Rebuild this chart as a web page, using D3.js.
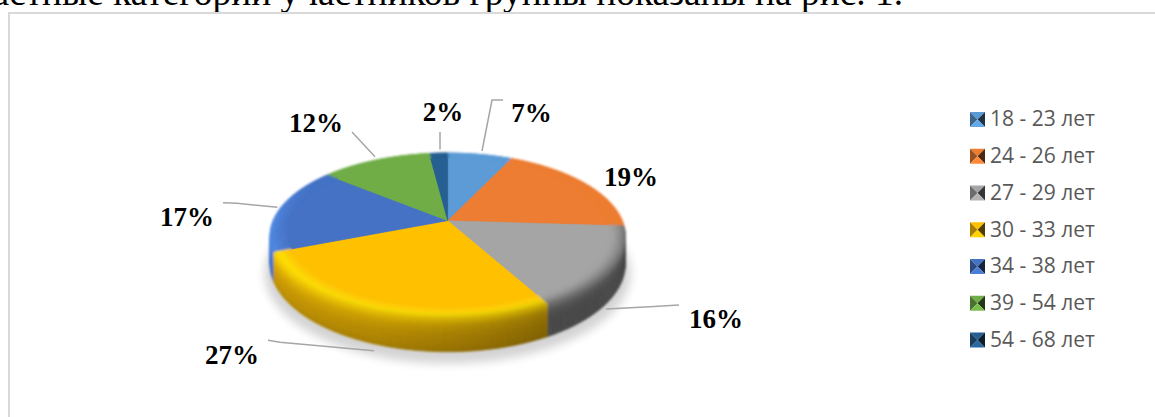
<!DOCTYPE html>
<html lang="ru"><head><meta charset="utf-8">
<script src="https://cdn.jsdelivr.net/npm/d3@7/dist/d3.min.js"></script>
<style>html,body{margin:0;padding:0;background:#fff;overflow:hidden}svg{display:block}</style>
</head><body><svg id="c" width="1155" height="417"></svg>
<script>
// ---- data ----
const categories = ["18 - 23 лет","24 - 26 лет","27 - 29 лет","30 - 33 лет","34 - 38 лет","39 - 54 лет","54 - 68 лет"];
const shares = [7,19,16,27,17,12,2];
const captionText = "возрастные категории участников группы показаны на рис. 1.";

// ---- style ----
const colors = ["#5b9bd5","#ed7d31","#a5a5a5","#ffc000","#4472c4","#70ad47","#255e91"];
// rim profile: colours from the inner bevel (t=0) to the wall foot (t=1)
const rimProfiles = [
  ["#5b9bd5","#5b9bd5","#3f7ab5","#2f6095"],
  ["#ed7d31","#ed7d31","#ed7d31","#c4652a","#8a4716","#6a340f"],
  ["#a5a5a5","#a0a0a0","#8c8c8c","#6c6c6c","#525252","#484848","#474747","#474747","#474747"],
  ["#ffc000","#ffcc00","#ffe000","#f6cc00","#e6b400","#d6a400","#cc9a00","#c59500","#b88a00"],
  ["#4472c4","#4a7ad0","#5088e0","#4c84dc","#4478cc","#3f70c4","#3a68b8"],
  ["#70ad47","#70ad47","#5a9038","#4a7a2e"],
  ["#255e91","#255e91","#1c4a75","#153a5e"]
];
const wallLit = [0,0,0,1,0,0,0];
const W = 1155, H = 417;
// perspective parameters of the disc
const apex = {x:447.7, y:220.7}, radX = 174.8, radY = 80, persp = 0.176, depth = 28, flatR = 0.9, bevelShare = 0.36;
// label and leader layout (pixels)
const labelPos = [[531.5,122],[631,186],[716,328],[232,364],[187,226],[316,132],[443,121]];
const leaderPts = [
  [[482,151],[492,100],[503,100]],
  [],
  [[606,309],[650,306.7],[679,305]],
  [[374,350.7],[280,342.3],[268,340.3]],
  [[277.3,207.3],[237,203.3],[223,202.7]],
  [[375,156.7],[352,132]],
  [[440,149.5],[440,132]]
];

const svg = d3.select("#c");
const defs = svg.append("defs");
defs.append("filter").attr("id","soft").attr("x","-20%").attr("y","-20%").attr("width","140%").attr("height","140%")
  .append("feGaussianBlur").attr("stdDeviation",5);
defs.append("filter").attr("id","softer").attr("x","-2%").attr("y","-2%").attr("width","104%").attr("height","104%")
  .append("feGaussianBlur").attr("stdDeviation",0.9);
defs.append("filter").attr("id","softest").attr("x","-2%").attr("y","-2%").attr("width","104%").attr("height","104%")
  .append("feGaussianBlur").attr("stdDeviation",0.4);

svg.append("rect").attr("width",W).attr("height",H).attr("fill","#fff");

// caption cut by the top of the picture
svg.append("text").attr("x",903).attr("y",5).attr("text-anchor","end")
  .attr("font-family","'Liberation Serif'").attr("font-size",37.4).attr("fill","#000").text(captionText);

// frame
svg.append("path").attr("d",(()=>{const p=d3.path();p.moveTo(9,H);p.lineTo(9,13);p.lineTo(W,13);return p.toString();})())
  .attr("fill","none").attr("stroke","#d9d9d9").attr("stroke-width",2);

// projection of a disc point: a=angle clockwise from the back, r=radius fraction, h=depth below top
function proj(a,r,h){
  const u=r*Math.sin(a), v=r*Math.cos(a), d=1+persp*v;
  return [apex.x+radX*u/d, apex.y+(-radY*v+h)/d];
}
const pie = d3.pie().sort(null).value(d=>d)(shares);
const line = d3.line();
const step = 2.5*Math.PI/180;
const smooth = d3.scaleLinear().domain([0.5,0.05]).range([0,1]).clamp(true);
const lit = d3.scaleLinear().domain([150,200,270]).range([0.66,0.88,1.06]).clamp(true);

const bands = 24;
const rim = svg.append("g").attr("filter","url(#softer)");
const flat = svg.append("g").attr("filter","url(#softest)");

// soft shadow under the disc
svg.insert("path","g")
  .attr("d", line(d3.range(0,2*Math.PI+.05,.05).map(a=>{const p=proj(a,1.03,depth);return [p[0],p[1]+8];})))
  .attr("fill","#000").attr("opacity",.17).attr("filter","url(#soft)");

function rimPoint(a,t){
  if(t<bevelShare) return proj(a, flatR+(1-flatR)*(t/bevelShare), 0);
  return proj(a,1,depth*(t-bevelShare)/(1-bevelShare));
}
function cells(sl,i){
  const ramp = d3.piecewise(d3.interpolateRgb, rimProfiles[i]);
  const out=[];
  const n=Math.max(1,Math.ceil((sl.endAngle-sl.startAngle)/step));
  for(let k=0;k<n;k++){
    const a0=sl.startAngle+(sl.endAngle-sl.startAngle)*k/n, a1=sl.startAngle+(sl.endAngle-sl.startAngle)*(k+1)/n;
    const am=(a0+a1)/2, w=smooth(Math.cos(am));
    for(let b=0;b<bands;b++){
      const t0=b/bands,t1=(b+1)/bands,tm=(t0+t1)/2;
      let c=d3.rgb(d3.interpolateRgb(colors[i],ramp(tm))(t0<bevelShare?w:Math.max(w,.6)));
      if(wallLit[i]){const f=1+(lit(am*180/Math.PI)-1)*d3.scaleLinear().domain([.15,.5]).range([0,1]).clamp(true)(tm);c=d3.rgb(Math.min(255,c.r*f),Math.min(255,c.g*f),Math.min(255,c.b*f));}
      out.push({v:Math.cos(am),b,d:line([rimPoint(a0,t0),rimPoint(a1,t0),rimPoint(a1,t1),rimPoint(a0,t1)])+"Z",c:c.formatHex()});
    }
  }
  return out;
}
const allCells = pie.flatMap(cells).sort((p,q)=>(q.v-p.v)||(q.b-p.b));
rim.append("g").selectAll("path").data(allCells).join("path")
  .attr("d",d=>d.d).attr("fill",d=>d.c).attr("stroke",d=>d.c).attr("stroke-width",.7);

// flat top of each slice, also laid under the blurred rim so no pale seam shows
const sliceTop = sl=>{
  const pts=[[apex.x,apex.y]];
  const n=Math.ceil((sl.endAngle-sl.startAngle)/(.5*Math.PI/180));
  d3.range(n+1).forEach(k=>pts.push(proj(sl.startAngle+(sl.endAngle-sl.startAngle)*k/n,flatR+.002,0)));
  return line(pts)+"Z";
};
rim.append("g").selectAll("path").data(pie).join("path")
  .attr("d",sliceTop).attr("fill",(d,i)=>colors[i]).attr("stroke",(d,i)=>colors[i]).attr("stroke-width",.4);
flat.append("g").selectAll("path").data(pie).join("path")
  .attr("d",sliceTop).attr("fill",(d,i)=>colors[i]).attr("stroke",(d,i)=>colors[i]).attr("stroke-width",.4);

// leader lines
svg.append("g").selectAll("path").data(leaderPts.filter(d=>d.length)).join("path")
  .attr("d",d=>line(d)).attr("fill","none").attr("stroke","#a6a6a6").attr("stroke-width",1.5);

// value labels
svg.append("g").selectAll("text").data(shares).join("text")
  .attr("x",(d,i)=>labelPos[i][0]).attr("y",(d,i)=>labelPos[i][1]).attr("text-anchor","middle")
  .attr("font-family","'Liberation Serif'").attr("font-weight","bold").attr("font-size",27).attr("fill","#000")
  .text(d=>d+"%");

// legend
const yL = d3.scalePoint().domain(categories).range([119.4,340]);
const lg = svg.append("g").selectAll("g").data(categories).join("g").attr("transform",d=>`translate(970,${yL(d)})`);
const s=7.5;
lg.each(function(d,i){
  const g=d3.select(this), c=d3.color(colors[i]);
  const tris=[
    [[[-s,-s],[s,-s],[0,0]], c.copy()],
    [[[-s,-s],[-s,s],[0,0]], c.darker(1.2)],
    [[[s,-s],[s,s],[0,0]], c.darker(3.2)],
    [[[-s,s],[s,s],[0,0]], c.brighter(.25)]
  ];
  g.selectAll("path").data(tris).join("path").attr("transform",`translate(${s},0)`)
    .attr("d",t=>line(t[0])+"Z").attr("fill",t=>t[1].formatHex());
});
lg.append("text").attr("x",20).attr("y",7).attr("font-family","'Open Sans'").attr("font-size",21).attr("fill","#595959").text(d=>d);
</script></body></html>
